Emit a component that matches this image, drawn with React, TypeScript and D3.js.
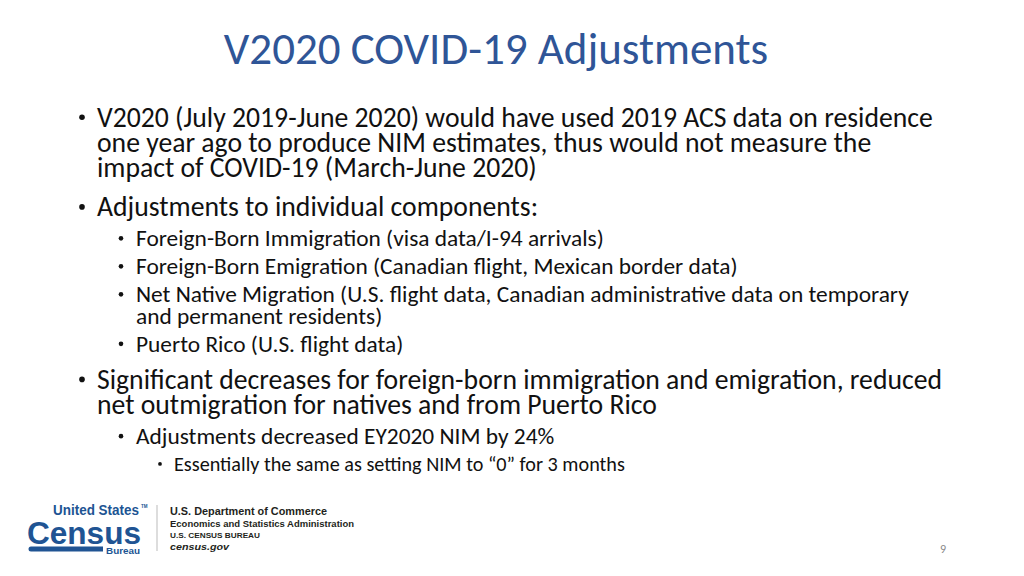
import React from "react";
import * as d3 from "d3";

// slide content
const title = "V2020 COVID-19 Adjustments";

const bulletTexts = [
  "V2020 (July 2019-June 2020) would have used 2019 ACS data on residence|one year ago to produce NIM estimates, thus would not measure the|impact of COVID-19 (March-June 2020)",
  "Adjustments to individual components:",
  "Foreign-Born Immigration (visa data/I-94 arrivals)",
  "Foreign-Born Emigration (Canadian flight, Mexican border data)",
  "Net Native Migration (U.S. flight data, Canadian administrative data on temporary|and permanent residents)",
  "Puerto Rico (U.S. flight data)",
  "Significant decreases for foreign-born immigration and emigration, reduced|net outmigration for natives and from Puerto Rico",
  "Adjustments decreased EY2020 NIM by 24%",
  "Essentially the same as setting NIM to \u201c0\u201d for 3 months",
];
const bulletLevels = [1, 1, 2, 2, 2, 2, 1, 2, 3];

const agencyLines = [
  "U.S. Department of Commerce",
  "Economics and Statistics Administration",
  "U.S. CENSUS BUREAU",
  "census.gov",
];
const pageNumber = "9";

const FONT = "Carlito, Calibri, Lato, 'Open Sans', sans-serif";
const LOGO_FONT = "'Liberation Sans', Arial, sans-serif";
const BLUE = "#2F5597";
const CENSUS_BLUE = "#205493";

// per-level style: bullet x, text x, font size, space above / below a paragraph, wrap line height
const levelStyle: Record<number, { bx: number; tx: number; size: number; above: number; below: number; lh: number; dot: number }> = {
  1: { bx: 82, tx: 97, size: 27.7, above: 29, below: 10, lh: 25.3, dot: 2.8 },
  2: { bx: 121, tx: 136, size: 23.4, above: 20, below: 8, lh: 21.5, dot: 2.3 },
  3: { bx: 160, tx: 174, size: 20.2, above: 18.7, below: 7, lh: 20, dot: 1.9 },
};

type Line = { text: string; level: number; y: number; first: boolean };

function layout(startY: number): Line[] {
  const out: Line[] = [];
  let y = startY;
  let prevLevel = 0;
  bulletTexts.forEach((t, i) => {
    const lv = bulletLevels[i];
    const st = levelStyle[lv];
    if (prevLevel) y += levelStyle[prevLevel].below + st.above;
    t.split("|").forEach((part, j) => {
      if (j > 0) y += st.lh;
      out.push({ text: part, level: lv, y, first: j === 0 });
    });
    prevLevel = lv;
  });
  return out;
}

const App = () => {
  const width = 1024;
  const height = 576;
  const lines = layout(126.7);
  const x = d3.scaleLinear().domain([0, width]).range([0, width]);

  return (
    <svg
      width={width}
      height={height}
      style={{ position: "absolute", left: 0, top: 0, background: "#fff" }}
    >
      <rect width={width} height={height} fill="#fff" />
      <text x={x(496)} y={63.5} textAnchor="middle" fontFamily={FONT} fontSize={45} fill={BLUE}>
        {title}
      </text>

      <g fontFamily={FONT} fill="#111">
        {lines.map((l, i) => {
          const st = levelStyle[l.level];
          return (
            <g key={i}>
              {l.first && <circle cx={x(st.bx)} cy={l.y - st.size * 0.34} r={st.dot} fill="#111" />}
              <text x={x(st.tx)} y={l.y} fontSize={st.size}>
                {l.text}
              </text>
            </g>
          );
        })}
      </g>

      {/* Census logo */}
      <g fontFamily={LOGO_FONT} fill={CENSUS_BLUE}>
        <text x={53} y={515} fontSize={14} fontWeight={700} textLength={86} lengthAdjust="spacingAndGlyphs">
          United States
        </text>
        <text x={141} y={508} fontSize={4.5} fontWeight={700}>TM</text>
        <text x={27} y={544} fontSize={32} fontWeight={700} textLength={114} lengthAdjust="spacingAndGlyphs">
          Census
        </text>
        <path d="M31,546.5 H103 V551.5 H31 A2.5,2.5 0 0 1 31,546.5 Z" />
        <text x={106} y={554} fontSize={9.5} fontWeight={700} textLength={34} lengthAdjust="spacingAndGlyphs">
          Bureau
        </text>
      </g>
      <line x1={157} x2={157} y1={505} y2={551} stroke="#bbb" strokeWidth={1} />
      <g fontFamily={LOGO_FONT} fill="#231f20">
        <text x={170} y={515} fontSize={10.5} fontWeight={700} textLength={157} lengthAdjust="spacingAndGlyphs">
          {agencyLines[0]}
        </text>
        <text x={170} y={527} fontSize={9} fontWeight={700} textLength={184} lengthAdjust="spacingAndGlyphs">
          {agencyLines[1]}
        </text>
        <text x={170} y={538} fontSize={7.5} fontWeight={700} textLength={90} lengthAdjust="spacingAndGlyphs">
          {agencyLines[2]}
        </text>
        <text x={170} y={550} fontSize={9.5} fontWeight={700} fontStyle="italic" textLength={59} lengthAdjust="spacingAndGlyphs">
          {agencyLines[3]}
        </text>
      </g>

      <text x={943} y={553} textAnchor="middle" fontFamily={FONT} fontSize={12} fill="#888">
        {pageNumber}
      </text>
    </svg>
  );
};

export default App;
